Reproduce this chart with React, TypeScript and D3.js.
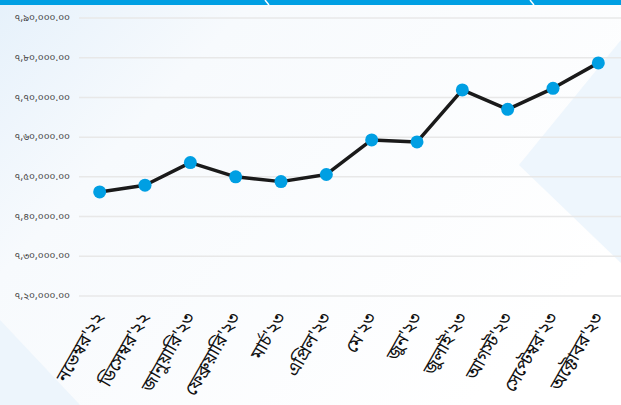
import React, { useEffect, useRef } from 'react';
import * as d3 from 'd3';

const months = [
  "নভেম্বর'২২", "ডিসেম্বর'২২", "জানুয়ারি'২৩", "ফেব্রুয়ারি'২৩", "মার্চ'২৩", "এপ্রিল'২৩",
  "মে'২৩", "জুন'২৩", "জুলাই'২৩", "আগস্ট'২৩", "সেপ্টেম্বর'২৩", "অক্টোবর'২৩",
];
const values = [
  746200, 747900, 753600, 750000, 748800, 750600,
  759300, 758800, 771900, 767000, 772300, 778700,
];
const yTicks = [720000, 730000, 740000, 750000, 760000, 770000, 780000, 790000];

const bnDigits = ['০', '১', '২', '৩', '৪', '৫', '৬', '৭', '৮', '৯'];
const toBn = (s: string) => s.replace(/[0-9]/g, (d) => bnDigits[+d]);
// Indian grouping: 7,90,000.00
const fmtY = (v: number) => {
  const s = String(v);
  const last3 = s.slice(-3);
  const rest = s.slice(0, -3).replace(/\B(?=(\d{2})+(?!\d))/g, ',');
  return toBn(`${rest},${last3}.00`);
};

const W = 621;
const H = 405;
const BN_FONT = "'Noto Sans Bengali', 'Lohit Bengali', 'Noto Sans', sans-serif";

const App: React.FC = () => {
  const svgRef = useRef<SVGSVGElement>(null);

  useEffect(() => {
    if (!svgRef.current) { return; }
    const svg = d3.select(svgRef.current);
    svg.selectAll('*').remove();

    // 背景
    const defs = svg.append('defs');
    const bg = defs.append('linearGradient')
      .attr('id', 'bg-grad')
      .attr('x1', '0').attr('y1', '0').attr('x2', '1').attr('y2', '0.6');
    bg.append('stop').attr('offset', '0%').attr('stop-color', '#e6f1fb');
    bg.append('stop').attr('offset', '30%').attr('stop-color', '#f7fafd');
    bg.append('stop').attr('offset', '100%').attr('stop-color', '#ffffff');

    svg.append('rect').attr('width', W).attr('height', H).attr('fill', 'url(#bg-grad)');
    svg.append('polygon')
      .attr('points', `0,${H} 0,320 80,${H}`)
      .attr('fill', '#edf5fc');
    svg.append('polygon')
      .attr('points', `${W},40 519,165 ${W},263`)
      .attr('fill', '#eef6fd');

    // 顶部蓝条
    svg.append('rect').attr('width', W).attr('height', 5).attr('fill', '#009fe3');
    [268, 533].forEach((x) => {
      svg.append('line')
        .attr('x1', x - 3).attr('y1', 0).attr('x2', x + 1).attr('y2', 5)
        .attr('stroke', '#ffffff').attr('stroke-width', 1.5);
    });

    // 比例尺
    const x = d3.scaleBand<string>()
      .domain(months)
      .range([77, 621])
      .padding(0);
    const y = d3.scaleLinear()
      .domain([720000, 790000])
      .range([296, 18]);
    const cx = (m: string) => (x(m) || 0) + x.bandwidth() / 2;

    // 网格线 + Y 标签
    const grid = svg.append('g');
    grid.selectAll('line')
      .data(yTicks)
      .enter()
      .append('line')
      .attr('x1', 79).attr('x2', W)
      .attr('y1', (d) => y(d)).attr('y2', (d) => y(d))
      .attr('stroke', '#e8e8e8')
      .attr('stroke-width', 1.5);
    grid.selectAll('text')
      .data(yTicks)
      .enter()
      .append('text')
      .attr('x', 70)
      .attr('y', (d) => y(d))
      .attr('dy', '0.32em')
      .attr('text-anchor', 'end')
      .attr('font-family', BN_FONT)
      .attr('font-size', 10)
      .attr('fill', '#444')
      .text((d) => fmtY(d));

    // X 标签
    svg.append('g')
      .selectAll('text')
      .data(months)
      .enter()
      .append('text')
      .attr('transform', (d) => `translate(${cx(d) + 5}, 317) rotate(-60)`)
      .attr('text-anchor', 'end')
      .attr('font-family', BN_FONT)
      .attr('font-size', 18)
      .attr('fill', '#111')
      .text((d) => d);

    // 折线
    const pts = months.map((m, i) => ({ m, v: values[i] }));
    const line = d3.line<{ m: string; v: number }>()
      .x((d) => cx(d.m))
      .y((d) => y(d.v));
    svg.append('path')
      .datum(pts)
      .attr('d', line)
      .attr('fill', 'none')
      .attr('stroke', '#1a1a1a')
      .attr('stroke-width', 3.5)
      .attr('stroke-linejoin', 'round');

    svg.append('g')
      .selectAll('circle')
      .data(pts)
      .enter()
      .append('circle')
      .attr('cx', (d) => cx(d.m))
      .attr('cy', (d) => y(d.v))
      .attr('r', 6.5)
      .attr('fill', '#009fe3');
  }, []);

  return (
    <svg
      ref={svgRef}
      width={W}
      height={H}
      style={{ position: 'fixed', left: 0, top: 0, display: 'block' }}
    />
  );
};

export default App;
